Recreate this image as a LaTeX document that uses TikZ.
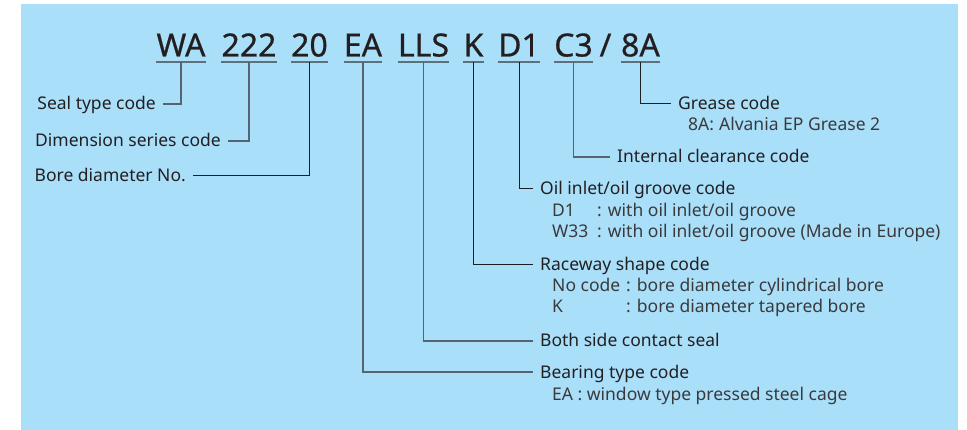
\documentclass[tikz,border=0pt]{standalone}
\usepackage{fontspec}
\setmainfont{Noto Sans}
\newfontfamily\titlefont[FakeBold=0.6]{Noto Sans}
\definecolor{bgblue}{RGB}{170,223,250}
\definecolor{txt}{RGB}{35,31,32}
\definecolor{subtxt}{RGB}{58,58,60}
\definecolor{ulgray}{RGB}{95,112,125}
\definecolor{lngray}{RGB}{85,100,112}
\definecolor{lndark}{RGB}{30,30,32}
\begin{document}
\begin{tikzpicture}[x=1pt,y=-1pt,
  code/.style={inner sep=0pt,anchor=base,text=txt,font=\titlefont\fontsize{32}{36}\selectfont},
  ul/.style={ulgray,line width=2pt},
  connA/.style={lngray,line width=1.1pt},
  connB/.style={lndark,line width=1pt},
  lbl/.style={inner xsep=7pt,inner ysep=0pt,text height=12pt,text depth=0pt,text=txt,font=\fontsize{17.5}{20}\selectfont},
  lblL/.style={lbl,anchor=east},
  lblR/.style={lbl,anchor=west},
  sub/.style={inner sep=0pt,anchor=base west,text=subtxt,font=\fontsize{17.5}{20}\selectfont}]
\useasboundingbox (0,0) rectangle (967,430);
\fill[bgblue] (21,4) rectangle (958,430);
% code pieces
\node[code] (wa)  at (181,56.5) {WA};
\node[code] (s222) at (249,56.5) {222};
\node[code] (s20) at (309.5,56.5) {20};
\node[code] (ea)  at (363,56.5) {EA};
\node[code] (lls) at (423.5,56.5) {LLS};
\node[code] (k)   at (473.5,56.5) {K};
\node[code] (d1)  at (519,56.5) {D1};
\node[code] (c3)  at (573.5,56.5) {C3};
\node[code] (sl)  at (605.5,56.5) {/};
\node[code] (a8)  at (640.5,56.5) {8A};
% underlines
\foreach \n in {wa,s222,s20,ea,lls,k,d1,c3,a8}
  \draw[ul] ([yshift=-5.5pt]\n.base west) -- ([yshift=-5.5pt]\n.base east);
% left labels
\node[lblL] (seal) at (163,104) {Seal type code};
\node[lblL] (dim)  at (228,141) {Dimension series code};
\node[lblL] (bore) at (193,176) {Bore diameter No.};
% right labels
\node[lblR] (grease) at (671,104) {Grease code};
\node[lblR] (clear)  at (610,157) {Internal clearance code};
\node[lblR] (oil)    at (533,189) {Oil inlet/oil groove code};
\node[lblR] (race)   at (533,265) {Raceway shape code};
\node[lblR] (both)   at (533,341) {Both side contact seal};
\node[lblR] (btype)  at (533,372) {Bearing type code};
% sub texts
\node[sub] (g1) at (688,131) {8A:\hspace{5pt}Alvania EP Grease 2};
\node[sub] (o1) at (552,217) {\makebox[45pt][l]{D1}: with oil inlet/oil groove};
\node[sub] (o2) at (552,237.5) {\makebox[45pt][l]{W33}: with oil inlet/oil groove (Made in Europe)};
\node[sub] (r1) at (552,292) {\makebox[74pt][l]{No code}: bore diameter cylindrical bore};
\node[sub] (r2) at (552,312.5) {\makebox[74pt][l]{K}: bore diameter tapered bore};
\node[sub] (b1) at (552,400) {EA : window type pressed steel cage};
% connectors
\draw[connA] ([yshift=-5.5pt]wa.base) |- (seal.east);
\draw[connA] ([yshift=-5.5pt]s222.base) |- (dim.east);
\draw[connB] ([yshift=-5.5pt]s20.base) |- (bore.east);
\draw[connA] ([yshift=-5.5pt]ea.base) |- (btype.west);
\draw[connA] ([yshift=-5.5pt]lls.base) |- (both.west);
\draw[connB] ([yshift=-5.5pt]k.base) |- (race.west);
\draw[connB] ([yshift=-5.5pt]d1.base) |- (oil.west);
\draw[connA] ([yshift=-5.5pt]c3.base) |- (clear.west);
\draw[connB] ([yshift=-5.5pt]a8.base) |- (grease.west);
\end{tikzpicture}
\end{document}
